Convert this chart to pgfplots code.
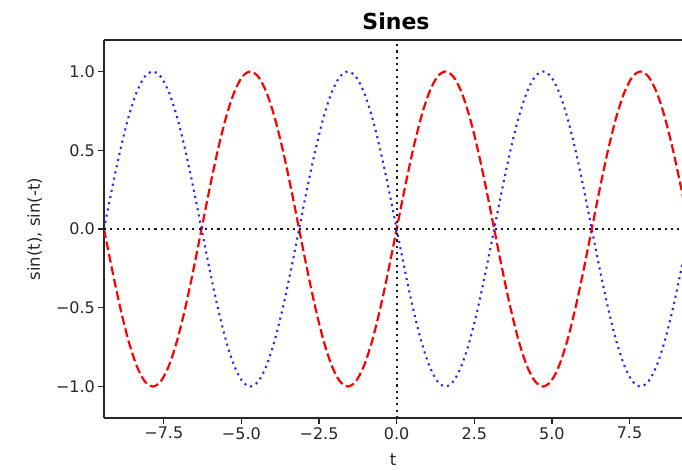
\documentclass[border=0pt]{standalone}
\usepackage{fontspec}
\setmainfont{DejaVu Sans}
\usepackage{pgfplots}
\pgfplotsset{compat=1.18}
\usepackage{pgfplotstable}
\usetikzlibrary{calc}

% t = k*pi/12, k = -36..36 ; s = sin(t), m = sin(-t)
\pgfplotstableread{
t s m
-9.4248 0 0
-9.1630 -0.2588 0.2588
-8.9012 -0.5 0.5
-8.6394 -0.7071 0.7071
-8.3776 -0.8660 0.8660
-8.1158 -0.9659 0.9659
-7.8540 -1 1
-7.5922 -0.9659 0.9659
-7.3304 -0.8660 0.8660
-7.0686 -0.7071 0.7071
-6.8068 -0.5 0.5
-6.5450 -0.2588 0.2588
-6.2832 0 0
-6.0214 0.2588 -0.2588
-5.7596 0.5 -0.5
-5.4978 0.7071 -0.7071
-5.2360 0.8660 -0.8660
-4.9742 0.9659 -0.9659
-4.7124 1 -1
-4.4506 0.9659 -0.9659
-4.1888 0.8660 -0.8660
-3.9270 0.7071 -0.7071
-3.6652 0.5 -0.5
-3.4034 0.2588 -0.2588
-3.1416 0 0
-2.8798 -0.2588 0.2588
-2.6180 -0.5 0.5
-2.3562 -0.7071 0.7071
-2.0944 -0.8660 0.8660
-1.8326 -0.9659 0.9659
-1.5708 -1 1
-1.3090 -0.9659 0.9659
-1.0472 -0.8660 0.8660
-0.7854 -0.7071 0.7071
-0.5236 -0.5 0.5
-0.2618 -0.2588 0.2588
0 0 0
0.2618 0.2588 -0.2588
0.5236 0.5 -0.5
0.7854 0.7071 -0.7071
1.0472 0.8660 -0.8660
1.3090 0.9659 -0.9659
1.5708 1 -1
1.8326 0.9659 -0.9659
2.0944 0.8660 -0.8660
2.3562 0.7071 -0.7071
2.6180 0.5 -0.5
2.8798 0.2588 -0.2588
3.1416 0 0
3.4034 -0.2588 0.2588
3.6652 -0.5 0.5
3.9270 -0.7071 0.7071
4.1888 -0.8660 0.8660
4.4506 -0.9659 0.9659
4.7124 -1 1
4.9742 -0.9659 0.9659
5.2360 -0.8660 0.8660
5.4978 -0.7071 0.7071
5.7596 -0.5 0.5
6.0214 -0.2588 0.2588
6.2832 0 0
6.5450 0.2588 -0.2588
6.8068 0.5 -0.5
7.0686 0.7071 -0.7071
7.3304 0.8660 -0.8660
7.5922 0.9659 -0.9659
7.8540 1 -1
8.1158 0.9659 -0.9659
8.3776 0.8660 -0.8660
8.6394 0.7071 -0.7071
8.9012 0.5 -0.5
9.1630 0.2588 -0.2588
9.4248 0 0
}\sines

\begin{document}
\begin{tikzpicture}
\begin{axis}[
    name=ax,
    scale only axis,
    width=578pt, height=378pt,
    xmin=-9.4248, xmax=9.19,
    ymin=-1.2, ymax=1.2,
    axis x line*=box, axis y line*=left,
    axis line style={line width=1.2pt, black!85},
    tick align=outside,
    xtick pos=left,
    major tick length=5.6pt,
    every tick/.style={line width=1.2pt, black!85},
    xtick={-7.5,-5,-2.5,0,2.5,5,7.5},
    xticklabels={−7.5,−5.0,−2.5,0.0,2.5,5.0,7.5},
    ytick={-1,-0.5,0,0.5,1},
    yticklabels={−1.0,−0.5,0.0,0.5,1.0},
    tick label style={font=\fontsize{16}{19}\selectfont, text=black!85},
    label style={font=\fontsize{16.5}{19}\selectfont, text=black!85},
    xlabel={t},
    ylabel={sin(t), sin(-t)},
    xlabel style={yshift=-8pt},
    ylabel style={yshift=7pt},
    title={\textbf{Sines}},
    title style={font=\fontsize{22}{26}\selectfont, xshift=3pt, yshift=1pt},
]
\addplot[red, line width=2.2pt, dash pattern=on 8.9pt off 3.8pt, smooth] table[x=t, y=s] {\sines};
\addplot[blue!85, line width=2.1pt, dash pattern=on 2.1pt off 4.2pt, smooth] table[x=t, y=m] {\sines};
\addplot[black!90, line width=2.1pt, dash pattern=on 2.1pt off 4.2pt] coordinates {(-9.4248,0) (9.4248,0)};
\addplot[black!90, line width=2.1pt, dash pattern=on 2.1pt off 4.2pt] coordinates {(0,-1.2) (0,1.2)};
\end{axis}
\pgfresetboundingbox
\path[use as bounding box] ($(ax.south west)+(-104pt,-52pt)$) rectangle ($(ax.north east)+(0pt,40pt)$);
\end{tikzpicture}
\end{document}
